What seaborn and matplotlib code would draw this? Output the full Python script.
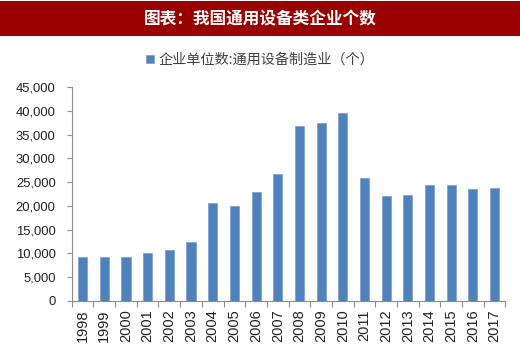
import matplotlib
matplotlib.use("Agg")
import matplotlib.pyplot as plt
import seaborn as sns
import pandas as pd
from matplotlib.patches import Rectangle
from matplotlib.ticker import FuncFormatter, FixedLocator

years = ["1998", "1999", "2000", "2001", "2002", "2003", "2004", "2005", "2006", "2007",
         "2008", "2009", "2010", "2011", "2012", "2013", "2014", "2015", "2016", "2017"]
counts = [9200, 9200, 9300, 10100, 10700, 12500, 20600, 19900, 22900, 26700,
          36900, 37400, 39600, 25900, 22000, 22400, 24500, 24500, 23600, 23800]
series_name = "企业单位数:通用设备制造业（个）"
title = "图表：我国通用设备类企业个数"
yticks = [0, 5000, 10000, 15000, 20000, 25000, 30000, 35000, 40000, 45000]

sns.set_theme(style="white")
plt.rcParams["font.family"] = ["Liberation Sans", "Noto Sans CJK SC", "DejaVu Sans"]

df = pd.DataFrame({"year": years, "count": counts})

fig = plt.figure(figsize=(5.2, 3.45), dpi=100)
ax = fig.add_axes([0.138, 0.128, 0.834, 0.619])

sns.barplot(data=df, x="year", y="count", color="#4F81BD", saturation=1,
            width=0.42, edgecolor="#7FA3D0", linewidth=0.6, label=series_name, ax=ax)

ax.set_xlim(-0.5, len(years) - 0.5)
ax.set_ylim(0, 45000)
ax.set_yticks(yticks)
ax.yaxis.set_major_formatter(FuncFormatter(lambda v, p: f"{int(v):,}"))
ax.set_xlabel("")
ax.set_ylabel("")

for s in ["top", "right"]:
    ax.spines[s].set_visible(False)
for s in ["left", "bottom"]:
    ax.spines[s].set_color("#8C8C8C")
    ax.spines[s].set_linewidth(0.8)

ax.tick_params(axis="y", which="major", direction="out", length=3.6, width=0.8,
               color="#8C8C8C", labelsize=9.4, labelcolor="#222222", pad=8, left=True)
ax.tick_params(axis="x", which="major", length=0, labelsize=10.5, labelcolor="#222222",
               rotation=90, pad=6)
ax.xaxis.set_minor_locator(FixedLocator([i - 0.5 for i in range(len(years) + 1)]))
ax.tick_params(axis="x", which="minor", direction="out", length=4, width=0.8,
               color="#8C8C8C", bottom=True)

# Title bar
fig.patches.append(Rectangle((0, 1 - 36 / 345), 1, 35 / 345, transform=fig.transFigure,
                             facecolor="#990000", edgecolor="none", zorder=0))
fig.text(0.5, 1 - 19 / 345, title, ha="center", va="center", color="white",
         fontsize=12, fontweight="bold", family=["Noto Sans CJK SC", "DejaVu Sans"])

leg = ax.legend(loc="center", bbox_to_anchor=(0.5, 1 - 60 / 345),
                bbox_transform=fig.transFigure, frameon=False,
                handlelength=0.55, handleheight=0.55, handletextpad=0.3,
                prop={"family": ["Noto Sans CJK SC", "DejaVu Sans"], "size": 10.2})
for t in leg.get_texts():
    t.set_color("#404040")

fig.savefig("out.png", dpi=100, facecolor="white")
